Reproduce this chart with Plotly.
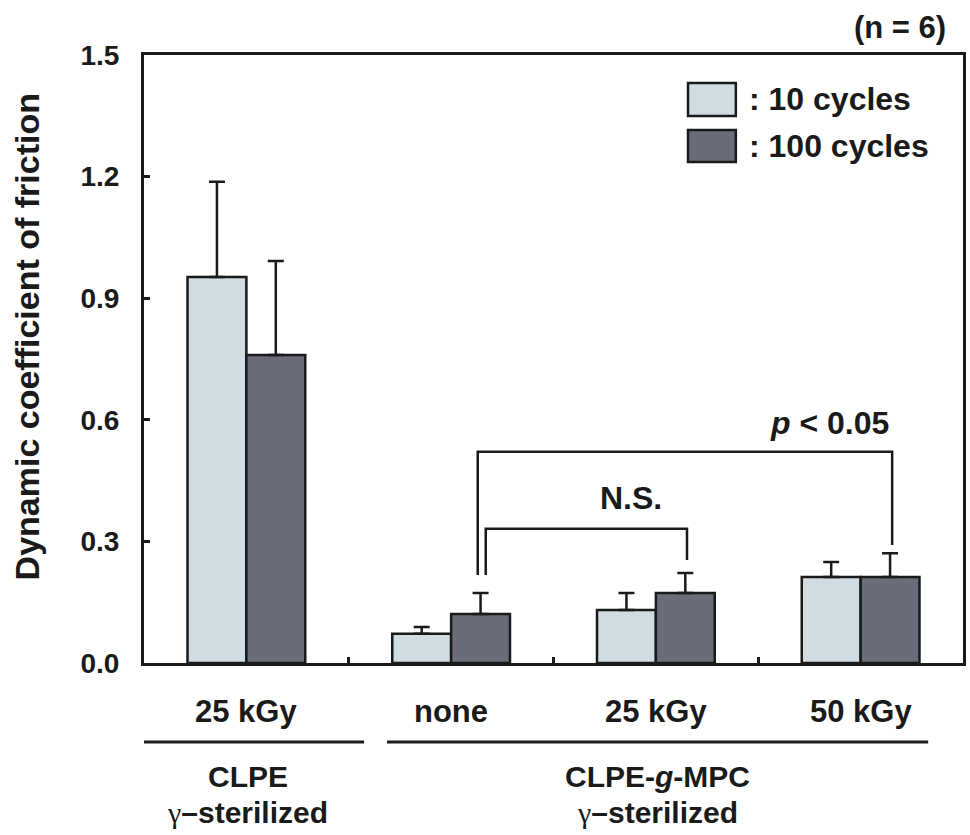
import plotly.graph_objects as go

# ---------------- data ----------------
categories = ["25 kGy", "none", "25 kGy", "50 kGy"]
x_pos = [0, 1, 2, 3]
series_names = [": 10 cycles", ": 100 cycles"]
mean_10 = [0.952, 0.072, 0.131, 0.212]
err_10 = [0.235, 0.017, 0.042, 0.037]
mean_100 = [0.760, 0.121, 0.173, 0.212]
err_100 = [0.232, 0.052, 0.049, 0.059]
y_ticks = [0.0, 0.3, 0.6, 0.9, 1.2, 1.5]

GAMMA = '<span style="font-family:Liberation Serif;font-weight:normal">γ</span>'
# group labels: (x_start, x_end, line1, line2)
groups = [(-0.563, 0.575, "CLPE", GAMMA + "–sterilized"),
          (0.687, 3.33, "CLPE-<i>g</i>-MPC", GAMMA + "–sterilized")]

# significance brackets: (x_left, x_right, y_top, y_left_bottom, y_right_bottom)
brackets = [(1.130, 3.154, 0.521, 0.217, 0.291),
            (1.169, 2.152, 0.331, 0.217, 0.254)]
sig_labels = [("<i>p</i> < 0.05", 2.848, 0.592), ("N.S.", 1.88, 0.407)]

# ---------------- style ----------------
FONT = "Liberation Sans, Arial, Helvetica, sans-serif"
INK = "#1a1a1a"
LIGHT = "#cfdce1"
DARK = "#6a6d79"
W, H = 970, 835
ML, MR, MT, MB = 144, 4, 55, 172
PW, PH = W - ML - MR, H - MT - MB


def px(xp):
    return (xp - ML) / PW


def py(yp):
    return (H - MB - yp) / PH


def ann(text, x, y, xref, yref, size, xanchor="center", **kw):
    return dict(text=text, x=x, y=y, xref=xref, yref=yref, showarrow=False,
                xanchor=xanchor, yanchor="middle",
                font=dict(size=size, color=INK, family=FONT), **kw)


fig = go.Figure()
for name, m, e, col in [(series_names[0], mean_10, err_10, LIGHT),
                        (series_names[1], mean_100, err_100, DARK)]:
    fig.add_trace(go.Bar(
        x=x_pos, y=m, name=name,
        marker=dict(color=col, line=dict(color=INK, width=2.5)),
        error_y=dict(type="data", array=e, arrayminus=[0] * len(e),
                     symmetric=False, color=INK, thickness=2.5, width=8),
        showlegend=False,
    ))

shapes = []
annotations = []

# brackets
for xl, xr, yt, yl, yr in brackets:
    shapes.append(dict(type="path", xref="x", yref="y",
                       path=f"M {xl},{yl} L {xl},{yt} L {xr},{yt} L {xr},{yr}",
                       line=dict(color=INK, width=2.5)))
for txt, xx, yy in sig_labels:
    annotations.append(ann(f"<b>{txt}</b>", xx, yy, "x", "y", 32))

# category labels
for c, xx in zip(categories, x_pos):
    annotations.append(ann(f"<b>{c}</b>", xx, py(711), "x", "paper", 31))

# group lines and labels
for x0, x1, l1, l2 in groups:
    shapes.append(dict(type="line", xref="x", yref="paper", x0=x0, x1=x1,
                       y0=py(742), y1=py(742), line=dict(color=INK, width=3)))
    xc = (x0 + x1) / 2
    annotations.append(ann(f"<b>{l1}</b>", xc, py(776), "x", "paper", 30))
    annotations.append(ann(f"<b>{l2}</b>", xc, py(812), "x", "paper", 30))

# legend (manual)
for (y0p, y1p, col, name) in [(83, 116, LIGHT, series_names[0]),
                              (130, 162, DARK, series_names[1])]:
    shapes.append(dict(type="rect", xref="paper", yref="paper",
                       x0=px(690), x1=px(738), y0=py(y1p), y1=py(y0p),
                       fillcolor=col, line=dict(color=INK, width=2.5)))
    annotations.append(ann(f"<b>{name}</b>", px(749), py((y0p + y1p) / 2),
                           "paper", "paper", 32, xanchor="left"))

# (n = 6)
annotations.append(ann("<b>(n = 6)</b>", px(903), py(27), "paper", "paper", 31))

# y title
annotations.append(ann("<b>Dynamic coefficient of friction</b>", px(27), py(337),
                       "paper", "paper", 34, textangle=-90))

fig.update_layout(
    width=W, height=H,
    margin=dict(l=ML, r=MR, t=MT, b=MB),
    paper_bgcolor="white", plot_bgcolor="white",
    barmode="group", bargap=0.425, bargroupgap=0,
    shapes=shapes, annotations=annotations,
    font=dict(family=FONT, color=INK),
)
fig.update_xaxes(range=[-0.5, 3.5], tickmode="array", tickvals=[0.5, 1.5, 2.5],
                 showticklabels=False, ticks="inside", ticklen=6, tickwidth=3, tickcolor=INK,
                 showline=True, linewidth=3, linecolor=INK, mirror=True,
                 showgrid=False, zeroline=False)
fig.update_yaxes(range=[0, 1.5], tickmode="array", tickvals=y_ticks, tickformat=".1f",
                 ticks="inside", ticklen=6, tickwidth=3, tickcolor=INK,
                 tickfont=dict(size=28, family=FONT, color=INK, weight="bold"),
                 ticklabelstandoff=16,
                 showline=True, linewidth=3, linecolor=INK, mirror=True,
                 showgrid=False, zeroline=False)

fig.write_html("out.html")
